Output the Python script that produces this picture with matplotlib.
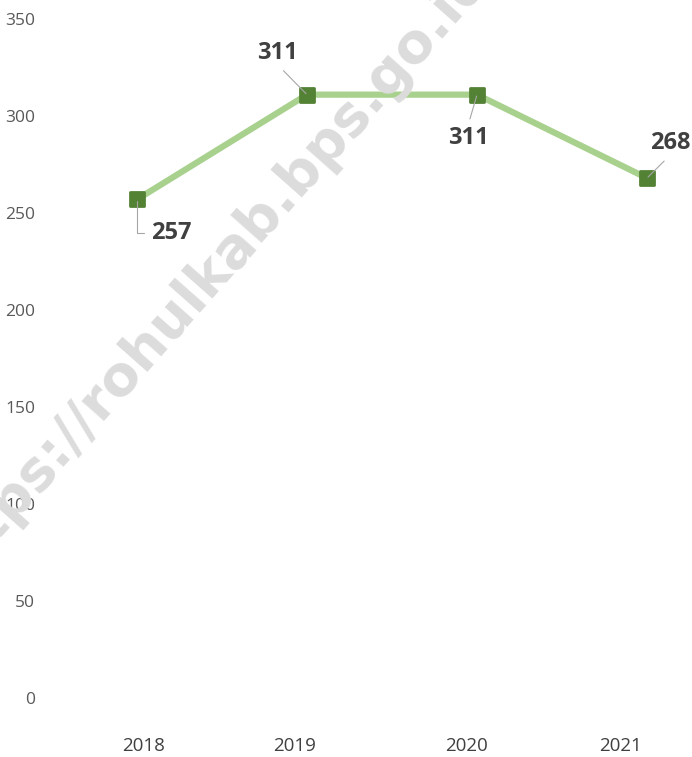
import matplotlib

matplotlib.use('agg')
import matplotlib.pyplot as plt
from matplotlib.markers import MarkerStyle
from matplotlib.transforms import ScaledTranslation

years = ['2018', '2019', '2020', '2021']
values = [257, 311, 311, 268]
yticks = [0, 50, 100, 150, 200, 250, 300, 350]

# data label offsets from the point (points) and leader anchor on the text
label_offsets = [(24.5, -24.5), (-21, 30), (-6.5, -31), (16.5, 25)]
label_relpos = [(0, 0.5), (0.5, 0), (0.5, 1), (0.5, 0)]
# small shifts of the category labels (pixels), as in the source
xlabel_shift = [7, -12, -10, -27]

fig = plt.figure(figsize=(6.92, 7.57), dpi=100)
ax = fig.add_axes([52 / 692, 59 / 757, 640 / 692, 679 / 757])

x = list(range(len(years)))
ax.plot(x, values, color='#A9D18E', linewidth=4.5, zorder=3,
        solid_capstyle='round')
ax.plot(x, values, linestyle='none',
        marker=MarkerStyle('s', joinstyle='round'), markersize=10.5,
        markeredgewidth=2, markerfacecolor='#548235',
        markeredgecolor='#548235', zorder=4)

for i, v in enumerate(values):
    dx, dy = label_offsets[i]
    style = 'angle,angleA=0,angleB=90,rad=0' if i == 0 else 'arc3'
    ax.annotate(str(v), (i, v), xytext=(dx, dy), textcoords='offset points',
                ha='center', va='center', fontsize=17, fontweight='bold',
                color='#404040', family='Open Sans', zorder=5,
                arrowprops=dict(arrowstyle='-', color='#A6A6A6', lw=0.8,
                                connectionstyle=style, relpos=label_relpos[i],
                                shrinkA=3, shrinkB=1))

ax.set_xlim(-0.5, (692 - 137) / 170)
ax.set_ylim(0, 350)
ax.set_xticks(x)
ax.set_xticklabels(years, fontsize=13.5, color='#404040', family='Open Sans')
ax.set_yticks(yticks)
ax.set_yticklabels([str(t) for t in yticks], fontsize=12.5, color='#595959',
                   family='Open Sans')
ax.tick_params(axis='x', length=0, pad=28)
ax.tick_params(axis='y', length=0, pad=12)
for lab, s in zip(ax.get_xticklabels(), xlabel_shift):
    lab.set_transform(lab.get_transform()
                      + ScaledTranslation(s / 100, 0, fig.dpi_scale_trans))
for sp in ax.spines.values():
    sp.set_visible(False)

# watermark
fig.text(0.302, 0.636, 'https://rohulkab.bps.go.id', rotation=48.5,
         fontsize=40, fontweight='bold', color='#DCDCDC', ha='center',
         va='center', zorder=0, family='DejaVu Sans',
         rotation_mode='anchor')

plt.savefig('out.png', dpi=100)
